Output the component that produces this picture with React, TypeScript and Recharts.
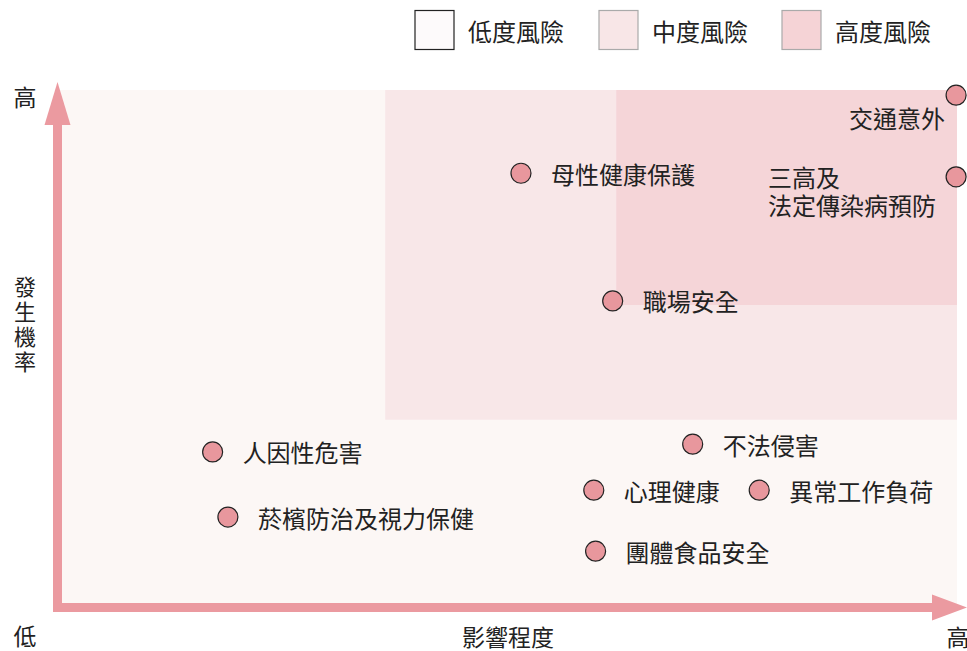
import React from 'react';
import { ScatterChart, Scatter, XAxis, YAxis, ReferenceArea, ReferenceLine } from 'recharts';

const FONT = '"Noto Sans CJK TC", "Noto Sans CJK SC", sans-serif';

// Risk items: impact (x) and probability (y), 0–100 scale
const itemNames = ['交通意外', '三高及\n法定傳染病預防', '母性健康保護', '職場安全', '不法侵害', '人因性危害', '心理健康', '異常工作負荷', '菸檳防治及視力保健', '團體食品安全'];
const impactValues = [99.9, 99.9, 51.5, 61.7, 70.6, 17.2, 59.6, 78.0, 18.9, 59.8];
const probabilityValues = [99.0, 83.2, 83.9, 59.2, 31.5, 30.0, 22.6, 22.6, 17.4, 10.8];

// Risk zones
const zoneNames = ['低度風險', '中度風險', '高度風險'];
const zoneX1 = [0, 36.4, 62.1];
const zoneY1 = [0, 36.2, 58.4];
const zoneColors = ['#fcf7f5', '#f8e7e8', '#f5d5d8'];
const legendFills = ['#fdfafb', '#f8e6e7', '#f5d3d6'];
const legendStrokes = ['#222222', '#aaaaaa', '#aaaaaa'];

// Axis wording
const yAxisTitle = ['發', '生', '機', '率'];
const xAxisTitle = '影響程度';
const highLabel = '高';
const lowLabel = '低';

const data = itemNames.map((name, i) => ({ name, x: impactValues[i], y: probabilityValues[i] }));

// label placement relative to point (style)
const labelPlacement: Record<string, { dx: number; dy: number; anchor: 'start' | 'end' }> = {
  '交通意外': { dx: -11, dy: 22, anchor: 'end' },
  '三高及\n法定傳染病預防': { dx: -188, dy: 0, anchor: 'start' },
};

const ARROW = '#eb9aa0';

const PointShape = (props: any) => {
  const { cx, cy, payload } = props;
  const p = labelPlacement[payload.name] || { dx: 30, dy: 0, anchor: 'start' };
  const lines = String(payload.name).split('\n');
  return (
    <g>
      <circle cx={cx} cy={cy} r={10} fill="#e8979d" stroke="#222" strokeWidth={1.2} />
      {lines.map((ln, i) => (
        <text key={i} x={cx + p.dx} y={cy + p.dy + i * 28} textAnchor={p.anchor} dominantBaseline="central"
          fontSize={24} fontFamily={FONT} fill="#222">{ln}</text>
      ))}
    </g>
  );
};

const HArrow = (props: any) => {
  const { x1, y1, x2 } = props;
  const y = y1 + 0.5;
  const x0 = x1 - 4.5;
  const tip = x2 + 10;
  return (
    <g>
      <rect x={x0} y={y - 4.5} width={tip - 34 - x0} height={9} fill={ARROW} />
      <polygon points={`${tip - 35},${y - 13} ${tip},${y} ${tip - 35},${y + 13}`} fill={ARROW} />
    </g>
  );
};

const VArrow = (props: any) => {
  const { x1, y1, y2 } = props;
  const x = x1 - 0.5;
  const top = Math.min(y1, y2) - 8;
  const bottom = Math.max(y1, y2) + 5;
  return (
    <g>
      <rect x={x - 4.5} y={top + 42} width={9} height={bottom - top - 42} fill={ARROW} />
      <polygon points={`${x - 13},${top + 43} ${x},${top} ${x + 13},${top + 43}`} fill={ARROW} />
    </g>
  );
};

const legendX = [415, 599, 782];

export default function App() {
  return (
    <div style={{ position: 'absolute', left: 0, top: 0, width: 967, height: 651, background: '#fff' }}>
      <ScatterChart width={967} height={651} margin={{ top: 90, right: 10, bottom: 44, left: 58 }}>
        <XAxis type="number" dataKey="x" domain={[0, 100]} hide />
        <YAxis type="number" dataKey="y" domain={[0, 100]} hide />
        {zoneNames.map((n, i) => (
          <ReferenceArea key={n} x1={zoneX1[i]} x2={100} y1={zoneY1[i]} y2={100} fill={zoneColors[i]} fillOpacity={1} stroke="none" ifOverflow="visible" />
        ))}
        <ReferenceLine segment={[{ x: 0, y: 0 }, { x: 100, y: 0 }]} shape={<HArrow />} ifOverflow="visible" />
        <ReferenceLine segment={[{ x: 0, y: 0 }, { x: 0, y: 100 }]} shape={<VArrow />} ifOverflow="visible" />
        <Scatter data={data} isAnimationActive={false} shape={<PointShape />} />
      </ScatterChart>
      <svg width={967} height={651} style={{ position: 'absolute', left: 0, top: 0, pointerEvents: 'none' }}>
        {zoneNames.map((n, i) => (
          <g key={n}>
            <rect x={legendX[i]} y={10.5} width={39} height={39} fill={legendFills[i]} stroke={legendStrokes[i]} strokeWidth={1.2} />
            <text x={legendX[i] + 53} y={30} dominantBaseline="central" fontSize={24} fontFamily={FONT} fill="#222">{n}</text>
          </g>
        ))}
        <g fontSize={23} fontFamily={FONT} fill="#222" textAnchor="middle" dominantBaseline="central">
          <text x={25} y={96}>{highLabel}</text>
          {yAxisTitle.map((c, i) => (
            <text key={c} x={25} y={285 + i * 25} fontSize={22}>{c}</text>
          ))}
          <text x={25} y={635}>{lowLabel}</text>
          <text x={508} y={636}>{xAxisTitle}</text>
          <text x={958} y={636}>{highLabel}</text>
        </g>
      </svg>
    </div>
  );
}
